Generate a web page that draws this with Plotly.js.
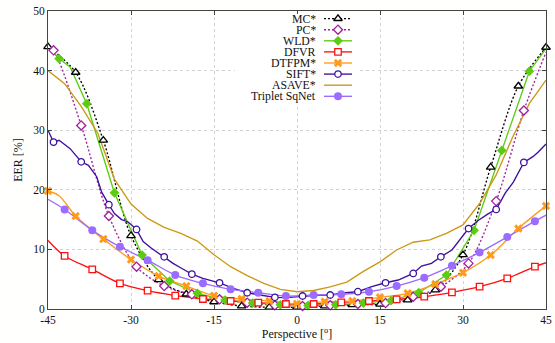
<!DOCTYPE html>
<html><head><meta charset="utf-8">
<script src="https://cdn.plot.ly/plotly-3.0.1.min.js"></script>
<style>html,body{margin:0;padding:0;background:#fff}#chart{width:555px;height:343px}</style>
</head><body><div id="chart"></div>
<script>
// ---------------- data ----------------
const seriesNames = ['MC*', 'PC*', 'WLD*', 'DFVR', 'DTFPM*', 'SIFT*', 'ASAVE*', 'Triplet SqNet'];

const xTickVals = [-45, -30, -15, 0, 15, 30, 45];
const xTickText = ['-45', '-30', '-15', '0', '15', '30', '45'];
const yTickVals = [0, 10, 20, 30, 40, 50];
const yTickText = ['0', '10', '20', '30', '40', '50'];

const mcX = [-45, -40, -35, -30, -25, -20, -15, -10, -5, 0, 5, 10, 15, 20, 25, 30, 35, 40, 45];
const mcY = [44.0, 39.7, 28.3, 12.3, 4.9, 2.5, 1.2, 0.5, 0.3, 0.3, 0.5, 0.7, 0.8, 1.5, 3.2, 9.1, 23.8, 37.4, 43.9];
const mcMarkX = [-45, -40, -35, -30, -25, -20, -15, -10, -5, 0, 5, 10, 15, 20, 25, 30, 35, 40, 45];

const pcX = [-45, -44, -39, -34, -29, -24, -19, -14, -9, -4, 1, 6, 11, 16, 21, 26, 31, 36, 41, 45];
const pcY = [44.0, 43.4, 30.8, 15.6, 7.1, 3.85, 2.46, 1.62, 1.06, 0.62, 0.5, 0.62, 0.84, 1.0, 2.06, 3.74, 7.65, 18.1, 33.3, 43.1];
const pcMarkX = [-44, -39, -34, -29, -24, -19, -14, -9, -4, 1, 6, 11, 16, 21, 26, 31, 36, 41];

const wldX = [-45, -43, -41, -38, -33, -28, -23, -18, -13, -8, -3, 2, 7, 12, 17, 22, 27, 32, 37, 42, 45];
const wldY = [44.0, 42.0, 40.6, 34.45, 19.5, 9.05, 4.69, 2.63, 1.5, 1.0, 0.7, 0.6, 0.7, 1.0, 1.4, 2.73, 5.7, 13.2, 26.6, 39.9, 43.7];
const wldMarkX = [-43, -38, -33, -28, -23, -18, -13, -8, -3, 2, 7, 12, 17, 22, 27, 32, 37, 42];

const dfvrX = [-45, -42, -37, -32, -27, -22, -17, -12, -7, -2, 3, 8, 13, 18, 23, 28, 33, 38, 43, 45];
const dfvrY = [11.5, 8.9, 6.65, 4.3, 3.07, 2.25, 1.68, 1.34, 1.06, 0.84, 0.84, 1.12, 1.34, 1.62, 2.06, 2.8, 3.74, 5.14, 7.1, 7.76];
const dfvrMarkX = [-42, -37, -32, -27, -22, -17, -12, -7, -2, 3, 8, 13, 18, 23, 28, 33, 38, 43];

const dtfpmX = [-45, -43, -40, -35, -30, -25, -20, -15, -10, -5, 0, 5, 10, 15, 20, 25, 30, 35, 40, 45];
const dtfpmY = [19.8, 19.0, 15.6, 11.73, 8.3, 5.53, 3.85, 2.23, 1.68, 1.34, 0.84, 1.23, 1.34, 1.96, 2.63, 4.19, 6.1, 9.05, 13.5, 17.3];
const dtfpmMarkX = [-45, -40, -35, -30, -25, -20, -15, -10, -5, 0, 5, 10, 15, 20, 25, 30, 35, 40, 45];

const siftX = [-45, -44, -43, -41, -39, -37.7, -36.2, -35.3, -34, -33, -31.7, -30.5, -29, -27.8, -26.3, -25, -24, -22.4, -20.8, -19, -17, -14, -11.5, -9, -6.7, -4, -2, 1, 3.5, 6, 8.7, 11, 13.5, 16, 18.3, 21, 22.5, 24.3, 26, 28, 29.2, 31, 32.8, 34.6, 36, 37.6, 39.1, 41, 42.7, 43.6, 45];
const siftY = [30.0, 28.0, 28.3, 26.9, 24.7, 24.1, 22.2, 19.6, 17.5, 16.0, 15.0, 14.6, 13.35, 11.3, 10.2, 9.3, 8.76, 7.65, 6.8, 5.85, 5.15, 4.4, 3.46, 2.73, 2.35, 1.96, 1.9, 2.18, 2.3, 2.35, 2.73, 2.9, 3.74, 4.4, 4.86, 5.97, 7.2, 7.65, 8.76, 9.9, 11.3, 13.5, 14.9, 16.0, 16.7, 19.4, 21.3, 24.6, 25.6, 26.35, 27.7];
const siftMarkX = [-44, -39, -34, -29, -24, -19, -14, -9, -4, 1, 6, 11, 16, 21, 26, 31, 36, 41];

const asaveX = [-45, -42, -39, -36, -33, -30, -27, -24, -21, -18, -15, -12, -9, -6, -3, 0, 3, 6, 9, 12, 15, 18, 21, 24, 27, 30, 33, 36, 39, 42, 45];
const asaveY = [40.0, 37.8, 34.0, 29.5, 21.8, 17.6, 15.2, 13.7, 12.7, 11.4, 9.1, 7.1, 5.6, 4.3, 3.3, 2.9, 3.1, 3.7, 4.5, 6.3, 7.9, 9.9, 11.2, 11.6, 12.7, 14.1, 17.7, 22.5, 28.9, 34.5, 38.4];

const tripX = [-45, -42, -37, -32, -27, -22, -17, -12, -7, -2, 3, 8, 13, 18, 23, 28, 33, 38, 43, 45];
const tripY = [18.4, 16.7, 13.2, 10.44, 8.2, 5.7, 4.3, 3.3, 2.73, 2.18, 2.35, 2.46, 2.9, 3.85, 5.25, 7.26, 9.5, 12.1, 14.74, 15.75];
const tripMarkX = [-42, -37, -32, -27, -22, -17, -12, -7, -2, 3, 8, 13, 18, 23, 28, 33, 38, 43];

// ---------------- styles ----------------
const FONT = 'Liberation Serif, Times New Roman, serif';
const series = [
  {x: mcX, y: mcY, mx: mcMarkX, color: '#000000', dash: '2px,2px', shape: 'spline', symbol: 'triangle-up', open: true, size: 7.5},
  {x: pcX, y: pcY, mx: pcMarkX, color: '#a0209c', dash: '2px,2px', shape: 'spline', symbol: 'diamond', open: true, size: 7},
  {x: wldX, y: wldY, mx: wldMarkX, color: '#5ccc12', dash: 'solid', shape: 'linear', symbol: 'diamond', open: false, size: 7.5},
  {x: dfvrX, y: dfvrY, mx: dfvrMarkX, color: '#ff1010', dash: 'solid', shape: 'spline', symbol: 'square', open: true, size: 6.5},
  {x: dtfpmX, y: dtfpmY, mx: dtfpmMarkX, color: '#ff9a1a', dash: 'solid', shape: 'spline', symbol: 'x', open: false, size: 7.5},
  {x: siftX, y: siftY, mx: siftMarkX, color: '#3e109e', dash: 'solid', shape: 'linear', symbol: 'circle', open: true, size: 6.5},
  {x: asaveX, y: asaveY, mx: null, color: '#cc9914', dash: 'solid', shape: 'linear', symbol: null, open: false, size: 0},
  {x: tripX, y: tripY, mx: tripMarkX, color: '#9a6cff', dash: 'solid', shape: 'spline', symbol: 'circle', open: false, size: 8}
];

function markerStyle(s) {
  return s.open
    ? {symbol: s.symbol, size: s.size, color: '#ffffff', line: {color: s.color, width: 1.3}}
    : {symbol: s.symbol, size: s.size, color: s.color, line: {width: 0}};
}

const traces = [];
series.forEach(function (s, i) {
  traces.push({
    type: 'scatter', mode: 'lines', x: s.x, y: s.y, name: seriesNames[i],
    line: {color: s.color, width: 1.35, dash: s.dash, shape: s.shape, smoothing: 0.9},
    showlegend: false, hoverinfo: 'skip'
  });
});
series.forEach(function (s, i) {
  if (!s.mx) return;
  const my = s.mx.map(function (xv) { return s.y[s.x.indexOf(xv)]; });
  traces.push({
    type: 'scatter', mode: 'markers', x: s.mx, y: my, name: seriesNames[i],
    marker: markerStyle(s), cliponaxis: false, showlegend: false, hoverinfo: 'skip'
  });
});

// ---------------- hand-made legend (compact rows like the reference) ----------------
const PL = 48, PR = 9, PT = 11, PB = 34, W = 555, H = 343;
const plotW = W - PL - PR, plotH = H - PT - PB;
const box = {x0: 235, x1: 357, y0: 14, y1: 104};          // legend box, pixels
const row0 = 18.6, rowH = 11.1, symX0 = 324, symX1 = 352, textX = 318;
const annotations = [];
series.forEach(function (s, i) {
  const ry = row0 + i * rowH;
  traces.push({
    type: 'scatter', mode: 'lines', x: [symX0, symX1], y: [ry, ry], xaxis: 'x2', yaxis: 'y2',
    line: {color: s.color, width: 1.35, dash: s.dash}, showlegend: false, hoverinfo: 'skip'
  });
  if (s.symbol) {
    traces.push({
      type: 'scatter', mode: 'markers', x: [(symX0 + symX1) / 2], y: [ry], xaxis: 'x2', yaxis: 'y2',
      marker: markerStyle(s), showlegend: false, hoverinfo: 'skip', cliponaxis: false
    });
  }
  annotations.push({
    xref: 'x2', yref: 'y2', x: textX, y: ry, xanchor: 'right', yanchor: 'middle',
    text: seriesNames[i], showarrow: false, font: {family: FONT, size: 11.8, color: '#111'}
  });
});

const axisCommon = {
  ticks: 'inside', ticklen: 4, tickwidth: 1, tickcolor: '#444',
  showline: true, linecolor: '#444', linewidth: 1, mirror: 'ticks',
  showgrid: true, gridcolor: '#d2d2d2', gridwidth: 1, griddash: 'dot',
  zeroline: false, automargin: false, fixedrange: true,
  tickfont: {family: FONT, size: 11.5, color: '#111'}
};

const layout = {
  width: W, height: H,
  margin: {l: PL, r: PR, t: PT, b: PB, pad: 0},
  paper_bgcolor: '#fffffe', plot_bgcolor: '#ffffff',
  showlegend: false,
  font: {family: FONT, color: '#111'},
  xaxis: Object.assign({}, axisCommon, {
    range: [-45, 45], tickmode: 'array', tickvals: xTickVals, ticktext: xTickText,
    title: {text: 'Perspective [<sup>o</sup>]', font: {family: FONT, size: 12, color: '#111'}, standoff: 4}
  }),
  yaxis: Object.assign({}, axisCommon, {
    range: [0, 50], tickmode: 'array', tickvals: yTickVals, ticktext: yTickText,
    title: {text: 'EER [%]', font: {family: FONT, size: 12, color: '#111'}, standoff: 8}
  }),
  xaxis2: {domain: [(box.x0 - PL) / plotW, (box.x1 - PL) / plotW], range: [box.x0, box.x1],
           anchor: 'y2', visible: false, fixedrange: true},
  yaxis2: {domain: [(H - PB - box.y1) / plotH, (H - PB - box.y0) / plotH], range: [box.y1, box.y0],
           anchor: 'x2', visible: false, fixedrange: true},
  annotations: annotations
};

Plotly.newPlot('chart', traces, layout, {displayModeBar: false, staticPlot: true});
</script>
</body></html>
